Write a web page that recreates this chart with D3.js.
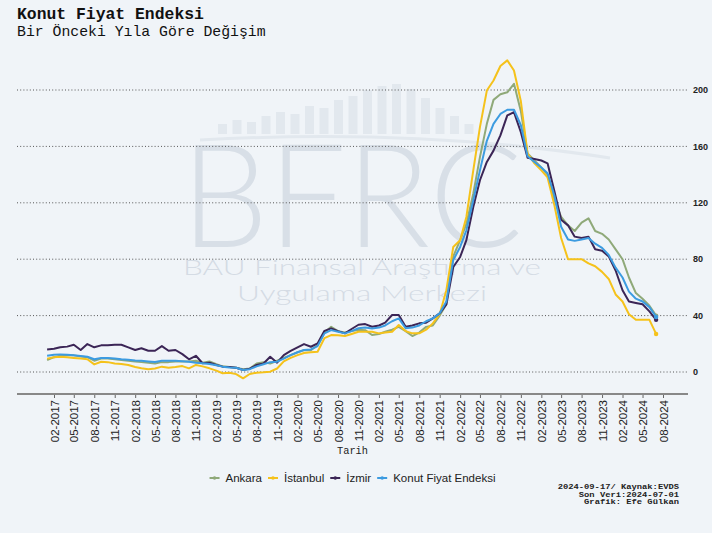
<!DOCTYPE html>
<html><head><meta charset="utf-8">
<script src="https://cdn.jsdelivr.net/npm/d3@7"></script>
<style>body{margin:0;background:#f0f4f8}svg{display:block}</style>
</head><body>
<svg id="c" width="712" height="533"></svg>
<script>
// ---- data (monthly, Jan 2017 .. Jul 2024) ----
const startMonth = "2017-01", endMonth = "2024-07";
const seriesNames = ["Ankara", "İstanbul", "İzmir", "Konut Fiyat Endeksi"];
const ankara = [
8.5,10.5,11.5,12,11.8,11,10.5,8,9.5,9.5,9,8.5,
8,7.5,7,6.5,6,7,7,7.5,7.5,7.5,8,6.5,
7.5,5.5,4,3.5,3,2,2.5,6,7,6,8,10,
12,14,15.5,15.5,19,28,32,29,28,29,30,29.7,
26.2,27,28.5,30,32,29,25.5,28,32,33,40,48,
82,93.5,105,126.5,152.4,176,193,197,198.4,204.4,
185,155,150,145,140,122,110,104,100,106,109,100,98,94,87,80,67,56,52,47,40];
const istanbul = [
9.5,10.5,10.8,10.5,10,9.5,9,5.4,7.3,7,6,5.7,
5,3.5,2.6,1.9,2.5,3.8,3,3.5,4.2,2.6,5,4,
2.6,1,-0.9,-0.5,-1.5,-4.5,-1.4,-0.5,-0.2,0.2,2.5,7.5,
10,12,13.5,14,14.4,24,26.2,26,25.5,27,28.5,28.5,
28.5,27.4,28,28.5,33.3,29,27.4,27.4,30,34.5,41,58,
88.7,93.5,110,143,173.7,199.6,206.7,217,221,213.8,
192,155,148,143,138,118,95,80,80,80,77,75,71,66,55,50,41,37,37,37,27];
const izmir = [
16,16.5,17.5,18,19.3,15.6,19.8,17.5,18.9,19,19.3,19.3,
17.5,15.6,16.8,15.1,15.1,18.4,15.1,15.6,12.7,9,11.5,6.2,
6.6,5,3.8,3.5,3,1.4,2.4,5,6,10.8,6.6,12,
15,17.5,19.8,17.9,20.3,29.2,30.9,29,27.4,30.5,33.5,34,
32.1,33,35,40.4,40.4,32.1,33,34.5,35,38,41.6,48,
74.5,81.6,93.5,117,136,149,157,167.8,182,184.3,
170,152,151,150,148,128,108,104,96,95,96,87,86,82,72,58,50,49,48,43,37];
const kfe = [
11.5,12.3,12.5,12.2,11.8,11.3,10.8,9,10,10,9.5,9,
8.7,8.2,8,7.5,7.1,8,8,8,7.6,7.3,6.6,6.2,
5.7,4.8,3.8,3.2,3,1.4,2,4,5.5,7,7.3,9.5,
12,14,15.6,16,18.4,27.4,29.7,28.5,27.4,29,31,31.5,
30.9,31.5,33,36,38,31,31.5,33,36,38,41.6,50,
79.3,88.7,100.5,121.8,143,164,176,183,186,186,
175,153,149,145,141,125,103,94,93,94,95,91,88,83,74,67,57,52,50,46,39];
const xTickLabels = ["02-2017","05-2017","08-2017","11-2017","02-2018","05-2018","08-2018","11-2018",
"02-2019","05-2019","08-2019","11-2019","02-2020","05-2020","08-2020","11-2020",
"02-2021","05-2021","08-2021","11-2021","02-2022","05-2022","08-2022","11-2022",
"02-2023","05-2023","08-2023","11-2023","02-2024","05-2024","08-2024"];
const yTicks = [0, 40, 80, 120, 160, 200];
const colors = ["#8fa979", "#f5c21b", "#3b2556", "#3c9be0"];
const credits = ["2024-09-17/ Kaynak:EVDS", "Son Veri:2024-07-01", "Grafik: Efe Gülkan"];

// ---- build ----
const parseM = d3.timeParse("%Y-%m");
const parseTick = d3.timeParse("%m-%Y");
const months = d3.timeMonth.range(parseM(startMonth), d3.timeMonth.offset(parseM(endMonth), 1));
const allValues = [ankara, istanbul, izmir, kfe];
const series = seriesNames.map((n, k) => ({name: n, color: colors[k],
  pts: months.map((d, i) => ({date: d, v: allValues[k][i]}))}));

const svg = d3.select("#c");
const W = 712, H = 533;
const plotL = 17, plotR = 688, axisY = 394;

const x = d3.scaleTime().domain([parseTick("02-2017"), parseTick("08-2024")]).range([54, 663]);
const y = d3.scaleLinear().domain([0, 200]).range([372, 90]);

svg.append("rect").attr("width", W).attr("height", H).attr("fill", "#f0f4f8");

// watermark (decorative logo)
const wm = svg.append("g").attr("class", "watermark");
const barH = [10,14,12,18,22,20,28,26,34,38,44,48,50,45,36,26,18,10];
barH.forEach((h, i) => {
  wm.append("rect").attr("x", 218 + i * 14.5).attr("y", 134 - h).attr("width", 9).attr("height", h)
    .attr("fill", "#e2e8ee");
});
wm.append("path").attr("d", "M200,140 Q420,128 610,158").attr("fill", "none")
  .attr("stroke", "#e2e8ee").attr("stroke-width", 3);
const wt = wm.append("text").attr("font-family", "Lato, 'Open Sans', sans-serif").attr("font-weight", 300);
wt.append("tspan").attr("x", 181).attr("y", 247).attr("font-size", 145).attr("fill", "#d8dfe7")
  .attr("textLength", 342).attr("lengthAdjust", "spacingAndGlyphs").text("BFRC");
wt.append("tspan").attr("x", 183).attr("y", 275).attr("font-size", 21).attr("fill", "#d4dbe4")
  .attr("textLength", 358).attr("lengthAdjust", "spacingAndGlyphs").text("BAU Finansal Araştırma ve");
wt.append("tspan").attr("x", 237).attr("y", 301).attr("font-size", 21).attr("fill", "#d4dbe4")
  .attr("textLength", 250).attr("lengthAdjust", "spacingAndGlyphs").text("Uygulama Merkezi");

// titles
svg.append("text").attr("x", 17).attr("y", 19)
  .attr("font-family", "'Liberation Mono', monospace").attr("font-weight", "bold")
  .attr("font-size", 16.4).attr("fill", "#111").text("Konut Fiyat Endeksi");
svg.append("text").attr("x", 17).attr("y", 36)
  .attr("font-family", "'Liberation Mono', monospace")
  .attr("font-size", 14.8).attr("fill", "#111").text("Bir Önceki Yıla Göre Değişim");

// gridlines + y labels (right)
const gy = svg.append("g");
gy.selectAll("line").data(yTicks).join("line")
  .attr("x1", plotL).attr("x2", plotR).attr("y1", d => y(d)).attr("y2", d => y(d))
  .attr("stroke", "#555").attr("stroke-width", 1).attr("stroke-dasharray", "1,2.2");
gy.selectAll("text").data(yTicks).join("text")
  .attr("x", 693).attr("y", d => y(d)).attr("dy", "0.35em")
  .attr("font-family", "'Liberation Sans', Arial, sans-serif").attr("font-weight", "bold")
  .attr("font-size", 9).attr("fill", "#222").text(d => d);

// x axis
const tickDates = xTickLabels.map(parseTick);
const xAxis = d3.axisBottom(x).tickValues(tickDates).tickFormat((d, i) => xTickLabels[i]).tickSize(4);
const gx = svg.append("g").attr("transform", `translate(0,${axisY})`).call(xAxis);
gx.select(".domain").remove();
gx.selectAll(".tick line").attr("stroke", "#666");
gx.selectAll(".tick text")
  .attr("font-family", "'Liberation Sans', Arial, sans-serif").attr("font-size", 11.5).attr("fill", "#222")
  .attr("text-anchor", "end").attr("transform", "rotate(-90)")
  .attr("x", -6).attr("y", 0).attr("dy", "0.35em");
svg.append("line").attr("x1", plotL).attr("x2", plotR).attr("y1", axisY).attr("y2", axisY)
  .attr("stroke", "#888").attr("stroke-width", 2);

svg.append("text").attr("x", (plotL + plotR) / 2).attr("y", 454).attr("text-anchor", "middle")
  .attr("font-family", "'Liberation Mono', monospace").attr("font-size", 10.3).attr("fill", "#222").text("Tarih");

// lines
const line = d3.line().x(d => x(d.date)).y(d => y(d.v));
const gl = svg.append("g");
series.forEach(s => {
  gl.append("path").datum(s.pts).attr("d", line).attr("fill", "none")
    .attr("stroke", s.color).attr("stroke-width", 2).attr("stroke-linejoin", "round");
  const last = s.pts[s.pts.length - 1];
  gl.append("circle").attr("cx", x(last.date)).attr("cy", y(last.v)).attr("r", 2.2).attr("fill", s.color);
});

// legend
const lg = svg.append("g");
let cx = 0;
series.forEach(s => {
  const g = lg.append("g");
  g.append("line").attr("x1", 0).attr("x2", 10).attr("y1", 0).attr("y2", 0).attr("stroke", s.color).attr("stroke-width", 2);
  g.append("circle").attr("cx", 5).attr("cy", 0).attr("r", 1.8).attr("fill", s.color);
  const t = g.append("text").attr("x", 16).attr("y", 0).attr("dy", "0.35em")
    .attr("font-family", "'Liberation Sans', Arial, sans-serif").attr("font-size", 11.5).attr("fill", "#222").text(s.name);
  const w = t.node().getComputedTextLength();
  g.attr("transform", `translate(${cx},0)`);
  cx += 16 + w + 6;
});
const totalW = cx - 6;
lg.attr("transform", `translate(${(plotL + plotR) / 2 - totalW / 2},478)`);

// credits
svg.append("g").selectAll("text").data(credits).join("text")
  .attr("transform", (d, i) => `translate(679,${489 + i * 7.5}) scale(1,0.72)`)
  .attr("text-anchor", "end")
  .attr("font-family", "'Liberation Mono', monospace").attr("font-weight", "bold")
  .attr("font-size", 8.8).attr("fill", "#222").text(d => d);
</script>
</body></html>
